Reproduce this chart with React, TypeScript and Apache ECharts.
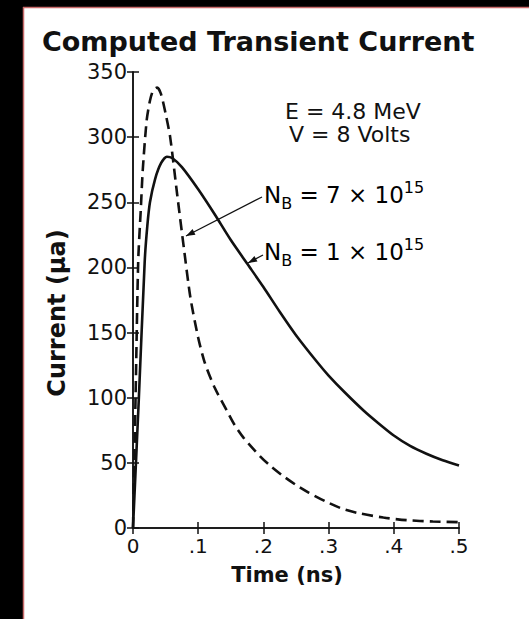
import React, { useEffect, useRef } from "react";
import * as echarts from "echarts";

const solidNB7: [number, number][] = [
  [0, 0], [0.009, 100], [0.018, 205], [0.022, 232], [0.026, 250], [0.034, 268],
  [0.043, 280], [0.052, 285], [0.06, 284], [0.075, 277], [0.1, 260], [0.125, 241],
  [0.15, 221], [0.175, 203], [0.2, 185], [0.225, 166], [0.25, 148], [0.283, 127],
  [0.3, 117], [0.325, 104], [0.354, 90], [0.375, 81], [0.4, 71], [0.425, 63],
  [0.45, 57], [0.475, 52], [0.5, 48],
];

const dashedNB1: [number, number][] = [
  [0, 0], [0.004, 102], [0.008, 205], [0.012, 245], [0.015, 275], [0.021, 313],
  [0.026, 328], [0.031, 336], [0.037, 338], [0.043, 333], [0.05, 318], [0.057, 300],
  [0.068, 255], [0.078, 215], [0.088, 177], [0.1, 146], [0.11, 127], [0.125, 108],
  [0.144, 90], [0.156, 79], [0.17, 69], [0.195, 55], [0.21, 48], [0.23, 40],
  [0.25, 33], [0.27, 27], [0.297, 20], [0.32, 15], [0.345, 11.5], [0.384, 8],
  [0.42, 6], [0.46, 5], [0.5, 4.5],
];

const titleText = "Computed Transient Current";
const xName = "Time (ns)";
const yName = "Current (μa)";
const infoLines = ["E = 4.8 MeV", "V = 8 Volts"];

const FONT = "DejaVu Sans";
const INK = "#111";

export default function App() {
  const ref = useRef<HTMLDivElement>(null);
  useEffect(() => {
    if (!ref.current) return;
    const chart = echarts.init(ref.current, null, { renderer: "svg" });
    const axisLine = { show: true, lineStyle: { color: INK, width: 1.5 } };
    const tick = { show: true, inside: true, length: 6, lineStyle: { color: INK, width: 1.5 } };
    const xFmt = (v: number) => (v === 0 ? "0" : v.toFixed(1).replace(/^0/, ""));
    const rich = {
      n: { fontFamily: FONT, fontSize: 23, color: INK, lineHeight: 32, verticalAlign: "middle" },
      sub: { fontFamily: FONT, fontSize: 16, color: INK, verticalAlign: "bottom" },
      sup: { fontFamily: FONT, fontSize: 16, color: INK, verticalAlign: "top" },
    };
    const arrowHead = (tx: number, ty: number, fx: number, fy: number) => {
      const dx = tx - fx, dy = ty - fy;
      const L = Math.hypot(dx, dy);
      const ux = dx / L, uy = dy / L;
      const bx = tx - ux * 9, by = ty - uy * 9;
      const px = -uy * 3.2, py = ux * 3.2;
      return {
        type: "polygon",
        shape: { points: [[tx, ty], [bx + px, by + py], [bx - px, by - py]] },
        style: { fill: INK },
      };
    };
    chart.setOption({
      animation: false,
      backgroundColor: "#ffffff",
      title: {
        text: titleText,
        left: 42,
        top: 28,
        padding: 0,
        textStyle: { fontFamily: FONT, fontWeight: "bold", fontSize: 27, color: INK },
      },
      grid: { left: 133, right: 70, top: 72, bottom: 91 },
      xAxis: [
        {
          type: "value", min: 0, max: 0.5, interval: 0.1,
          name: xName, nameLocation: "middle", nameGap: 36,
          nameTextStyle: { fontFamily: FONT, fontWeight: "bold", fontSize: 21, color: INK, padding: [0, 18, 0, 0] },
          axisLine, axisTick: tick, splitLine: { show: false },
          axisLabel: { formatter: xFmt, fontFamily: FONT, fontSize: 20, color: INK, margin: 8 },
        },
        {
          type: "value", min: 0, max: 0.5, interval: 0.1, position: "top",
          axisLine, axisTick: tick, splitLine: { show: false }, axisLabel: { show: false },
        },
      ],
      yAxis: [
        {
          type: "value", min: 0, max: 350, interval: 50,
          name: yName, nameLocation: "middle", nameGap: 64,
          nameTextStyle: { fontFamily: FONT, fontWeight: "bold", fontSize: 24, color: INK, padding: [0, 26, 0, 0] },
          axisLine, axisTick: tick, splitLine: { show: false },
          axisLabel: { fontFamily: FONT, fontSize: 21, color: INK, margin: 6 },
        },
        {
          type: "value", min: 0, max: 350, interval: 50, position: "right",
          axisLine, axisTick: tick, splitLine: { show: false }, axisLabel: { show: false },
        },
      ],
      series: [
        {
          name: "NB = 7 × 10^15", type: "line", data: solidNB7, showSymbol: false,
          smooth: 0.25,
          lineStyle: { color: INK, width: 2.6, type: "solid" },
        },
        {
          name: "NB = 1 × 10^15", type: "line", data: dashedNB1, showSymbol: false,
          smooth: 0.25,
          lineStyle: { color: INK, width: 2.6, type: [11, 6] },
        },
      ],
      graphic: [
        { type: "rect", shape: { x: 0, y: 0, width: 23, height: 619 }, style: { fill: "#000" } },
        { type: "rect", shape: { x: 0, y: 0, width: 529, height: 7 }, style: { fill: "#000" } },
        { type: "line", shape: { x1: 23.5, y1: 7, x2: 23.5, y2: 619 }, style: { stroke: "#c86a6a", lineWidth: 1.5 } },
        { type: "line", shape: { x1: 23, y1: 7.5, x2: 529, y2: 7.5 }, style: { stroke: "#c86a6a", lineWidth: 1.5 } },
        {
          type: "text", left: 285, top: 100,
          style: { text: infoLines[0], fontFamily: FONT, fontSize: 22, fill: INK },
        },
        {
          type: "text", left: 289, top: 123,
          style: { text: infoLines[1], fontFamily: FONT, fontSize: 22, fill: INK },
        },
        {
          type: "text", left: 264, top: 179,
          style: { text: "{n|N}{sub|B}{n| = 7 × 10}{sup|15}", rich },
        },
        {
          type: "text", left: 264, top: 236,
          style: { text: "{n|N}{sub|B}{n| = 1 × 10}{sup|15}", rich },
        },
        { type: "line", shape: { x1: 262, y1: 197, x2: 186, y2: 236 }, style: { stroke: INK, lineWidth: 1.3 } },
        arrowHead(186, 236, 262, 197),
        { type: "line", shape: { x1: 263, y1: 255, x2: 248, y2: 263 }, style: { stroke: INK, lineWidth: 1.3 } },
        arrowHead(248, 263, 263, 255),
      ],
    });
    return () => chart.dispose();
  }, []);
  return (
    <div
      ref={ref}
      style={{ position: "fixed", left: 0, top: 0, width: 529, height: 619, background: "#fff" }}
    />
  );
}
